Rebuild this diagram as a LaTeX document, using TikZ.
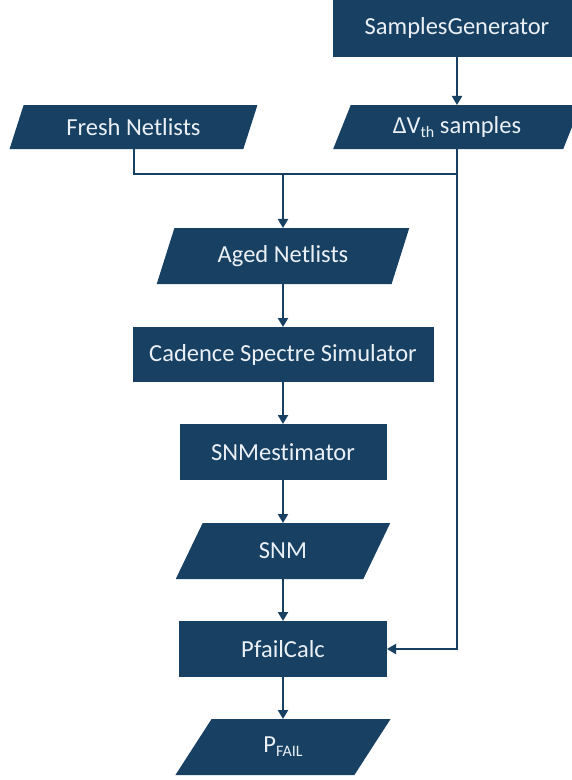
\documentclass[tikz,border=0pt]{standalone}
\usepackage{fontspec}
\setmainfont{Carlito}[Ligatures=NoCommon]
\usetikzlibrary{shapes.geometric,arrows.meta}

\definecolor{navy}{HTML}{174062}
\definecolor{paper}{HTML}{EAF0F5}

% lowered small text for subscripts
\newcommand\lowsub[1]{\raisebox{-0.35ex}{\fontsize{16}{16}\selectfont #1}}

\tikzset{
  base/.style={fill=navy, text=paper, font=\fontsize{24.5}{28}\selectfont,
               inner sep=0pt, outer sep=0pt},
  proc/.style={base, rectangle, minimum height=56pt},
  data/.style={base, trapezium, trapezium left angle=63.4,
               trapezium right angle=116.6, trapezium stretches=true},
  flow/.style={draw=navy, line width=2pt},
  arr/.style={flow, -{Triangle[width=10pt,length=9pt]}},
}

\begin{document}
\begin{tikzpicture}[x=1pt, y=-1pt]
  \clip (0,0) rectangle (572,780);
  \useasboundingbox (0,0) rectangle (572,780);

  % blocks
  \node[proc, minimum width=248pt, minimum height=58pt] (gen) at (457,28) {SamplesGenerator};
  \node[data, minimum width=248pt, minimum height=44pt] (fresh) at (133.5,127) {Fresh Netlists};
  \node[data, minimum width=248pt, minimum height=44pt] (dvth) at (457,127) {ΔV\lowsub{th} samples};
  \node[data, minimum width=253pt, minimum height=56pt] (aged) at (283,256) {Aged Netlists};
  \node[proc, minimum width=301pt, minimum height=55pt] (spectre) at (283,354.5) {Cadence Spectre Simulator};
  \node[proc, minimum width=207pt] (snmest) at (283,452) {SNMestimator};
  \node[data, minimum width=216pt, minimum height=56pt] (snm) at (283,551) {SNM};
  \node[proc, minimum width=208pt] (pfc) at (283,649) {PfailCalc};
  \node[data, minimum width=216pt, minimum height=56pt] (pfail) at (283,747) {P\lowsub{FAIL}};

  % connectors
  \coordinate (join) at (283,174);
  \draw[arr] (gen.south) -- (gen.south |- dvth.north);
  \draw[flow] (fresh.center |- fresh.south) |- (dvth.center |- join);
  \draw[arr] (join) -- (join |- aged.north);
  \draw[arr] (dvth.center |- dvth.south) |- (pfc.east);
  \draw[arr] (spectre.north |- aged.south) -- (spectre.north);
  \draw[arr] (spectre.south) -- (spectre.south |- snmest.north);
  \draw[arr] (snmest.south) -- (snmest.south |- snm.north);
  \draw[arr] (pfc.north |- snm.south) -- (pfc.north);
  \draw[arr] (pfc.south) -- (pfc.south |- pfail.north);
\end{tikzpicture}
\end{document}
